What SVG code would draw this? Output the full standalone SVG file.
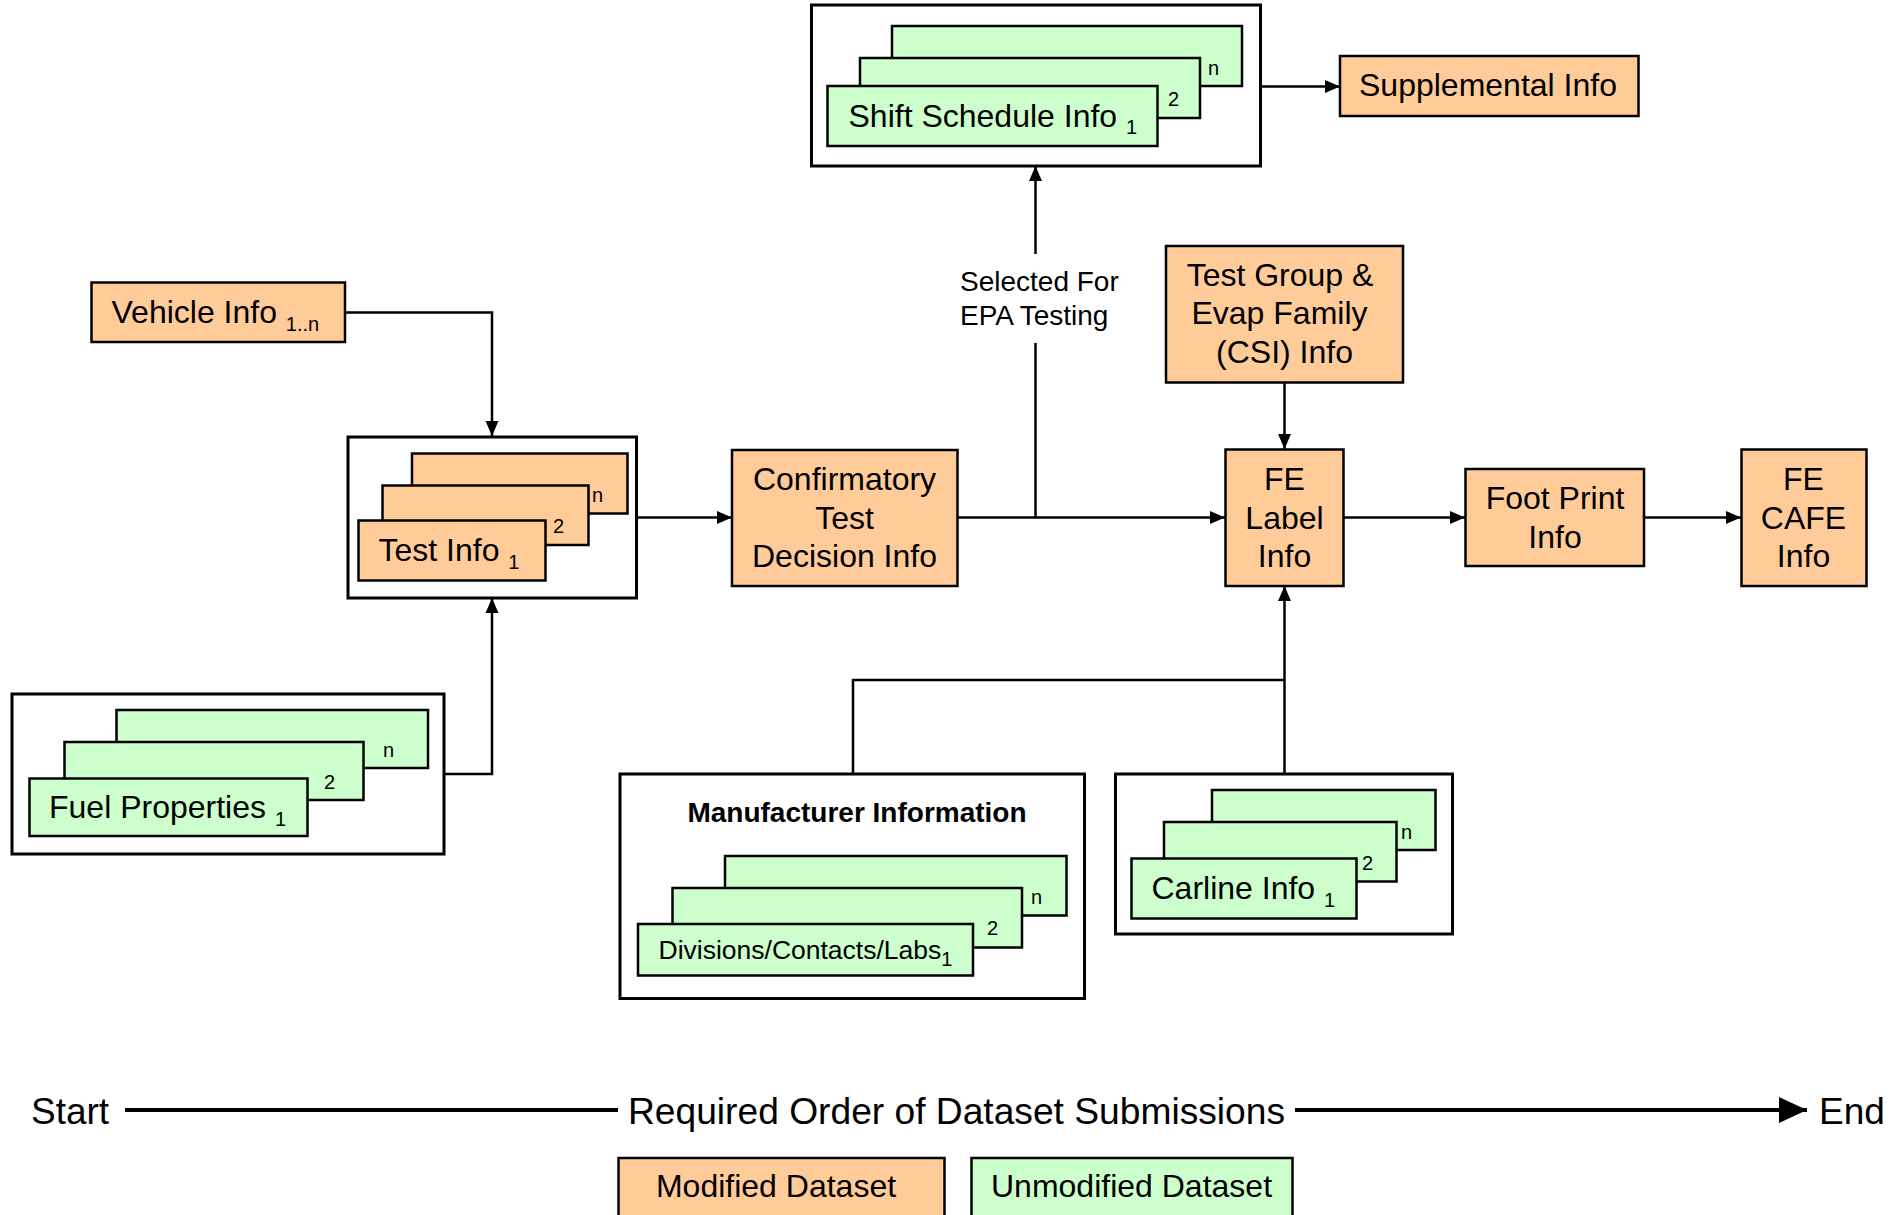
<svg xmlns="http://www.w3.org/2000/svg" width="1900" height="1215" viewBox="0 0 1900 1215">
<defs>
<marker id="arr" markerUnits="userSpaceOnUse" markerWidth="15" markerHeight="15" viewBox="0 0 15 15" refX="15" refY="7.5" orient="auto">
<path d="M0,1 L15,7.5 L0,14 z" fill="#000"/>
</marker>
<marker id="bigarr" markerUnits="userSpaceOnUse" markerWidth="28" markerHeight="26" viewBox="0 0 28 26" refX="28" refY="13" orient="auto">
<path d="M0,0 L28,13 L0,26 z" fill="#000"/>
</marker>
</defs>
<style>
text{font-family:"Liberation Sans",Arial,Helvetica,sans-serif;fill:#000}
.t{font-size:32px}
.m{font-size:32px;text-anchor:middle}
.s{font-size:20px}
.lbl{font-size:28px}
.big{font-size:37px}
.org{fill:#FFCC99;stroke:#000;stroke-width:2.5}
.grn{fill:#CCFFCC;stroke:#000;stroke-width:2.5}
.box{fill:#fff;stroke:#000;stroke-width:3}
.c{fill:none;stroke:#000;stroke-width:2.5}
</style>
<rect width="1900" height="1215" fill="#fff"/>

<g id="connectors">
<path class="c" d="M345,312.5 H492 V436" marker-end="url(#arr)"/>
<path class="c" d="M444,774 H492 V598" marker-end="url(#arr)"/>
<path class="c" d="M637,517.5 H732" marker-end="url(#arr)"/>
<path class="c" d="M957,517.5 H1225" marker-end="url(#arr)"/>
<path class="c" d="M1035.5,517.5 V343"/>
<path class="c" d="M1035.5,254 V166" marker-end="url(#arr)"/>
<path class="c" d="M1261,86.5 H1340" marker-end="url(#arr)"/>
<path class="c" d="M1284.5,382 V449" marker-end="url(#arr)"/>
<path class="c" d="M1343,517.5 H1465" marker-end="url(#arr)"/>
<path class="c" d="M1644,517.5 H1741" marker-end="url(#arr)"/>
<path class="c" d="M853,774 V680 H1284.5"/>
<path class="c" d="M1284.5,774 V586" marker-end="url(#arr)"/>
</g>

<g id="selected-label">
<text class="lbl" x="960" y="291">Selected For</text>
<text class="lbl" x="960" y="325">EPA Testing</text>
</g>

<g id="shift-schedule">
<rect class="box" x="811.5" y="5" width="449" height="161"/>
<rect class="grn" x="892" y="26" width="350" height="60"/>
<rect class="grn" x="860" y="58" width="340" height="60"/>
<rect class="grn" x="827.5" y="86" width="330" height="60"/>
<text class="s" x="1208" y="75">n</text>
<text class="s" x="1168" y="106">2</text>
<text class="t" x="848.5" y="126.5">Shift Schedule Info <tspan class="s" dy="7">1</tspan></text>
</g>

<g id="supplemental">
<rect class="org" x="1340" y="56" width="298.5" height="60"/>
<text class="m" x="1488" y="95.5">Supplemental Info</text>
</g>

<g id="vehicle-info">
<rect class="org" x="91.5" y="282.5" width="253.5" height="59.5"/>
<text class="t" x="111.5" y="322.5">Vehicle Info <tspan class="s" dy="8">1..n</tspan></text>
</g>

<g id="test-info">
<rect class="box" x="348" y="437" width="288.5" height="161"/>
<rect class="org" x="412" y="453.5" width="215.5" height="60"/>
<rect class="org" x="382.5" y="485.5" width="206" height="59.5"/>
<rect class="org" x="358.5" y="520.5" width="187" height="60"/>
<text class="s" x="592" y="502">n</text>
<text class="s" x="553" y="533">2</text>
<text class="t" x="378.5" y="560.5">Test Info <tspan class="s" dy="8">1</tspan></text>
</g>

<g id="confirmatory">
<rect class="org" x="732" y="450" width="225.5" height="136"/>
<text class="m" x="844.5" y="490">Confirmatory</text>
<text class="m" x="844.5" y="528.5">Test</text>
<text class="m" x="844.5" y="567">Decision Info</text>
</g>

<g id="test-group">
<rect class="org" x="1166" y="246" width="237" height="136.5"/>
<text class="m" x="1280" y="286">Test Group &amp;</text>
<text class="m" x="1279.5" y="324">Evap Family</text>
<text class="m" x="1284.5" y="362.5">(CSI) Info</text>
</g>

<g id="fe-label">
<rect class="org" x="1225.5" y="449.5" width="118" height="136.5"/>
<text class="m" x="1284.5" y="490">FE</text>
<text class="m" x="1284.5" y="528.5">Label</text>
<text class="m" x="1284.5" y="567">Info</text>
</g>

<g id="foot-print">
<rect class="org" x="1465.5" y="469" width="178.5" height="97"/>
<text class="m" x="1555" y="509">Foot Print</text>
<text class="m" x="1555" y="547.5">Info</text>
</g>

<g id="fe-cafe">
<rect class="org" x="1741.5" y="449.5" width="125" height="136.5"/>
<text class="m" x="1803.5" y="490">FE</text>
<text class="m" x="1803.5" y="528.5">CAFE</text>
<text class="m" x="1803.5" y="567">Info</text>
</g>

<g id="fuel-properties">
<rect class="box" x="12" y="694" width="432" height="160"/>
<rect class="grn" x="116.5" y="710" width="311.5" height="58"/>
<rect class="grn" x="64.5" y="742" width="299" height="58"/>
<rect class="grn" x="29.5" y="778.5" width="278" height="57.5"/>
<text class="s" x="383" y="757">n</text>
<text class="s" x="324" y="789">2</text>
<text class="t" x="49" y="817.5">Fuel Properties <tspan class="s" dy="8">1</tspan></text>
</g>

<g id="manufacturer">
<rect class="box" x="620" y="774" width="464.5" height="224.5"/>
<text x="857" y="822" style="font-size:28px;font-weight:bold;text-anchor:middle">Manufacturer Information</text>
<rect class="grn" x="725" y="856" width="341.5" height="59.5"/>
<rect class="grn" x="672.5" y="888" width="349.5" height="59.5"/>
<rect class="grn" x="638" y="924" width="335" height="51.5"/>
<text class="s" x="1031" y="904">n</text>
<text class="s" x="987" y="935">2</text>
<text x="658.5" y="959" style="font-size:26.5px">Divisions/Contacts/Labs<tspan class="s" dy="7">1</tspan></text>
</g>

<g id="carline">
<rect class="box" x="1115.5" y="774" width="337" height="160"/>
<rect class="grn" x="1212" y="790" width="223.5" height="60"/>
<rect class="grn" x="1164" y="822" width="232.5" height="59.5"/>
<rect class="grn" x="1131.5" y="858.5" width="225" height="60"/>
<text class="s" x="1401" y="839">n</text>
<text class="s" x="1362" y="870">2</text>
<text class="t" x="1151.5" y="898.5">Carline Info <tspan class="s" dy="8">1</tspan></text>
</g>

<g id="timeline">
<line x1="125" y1="1110" x2="618" y2="1110" stroke="#000" stroke-width="4"/>
<line x1="1295" y1="1110" x2="1807" y2="1110" stroke="#000" stroke-width="4" marker-end="url(#bigarr)"/>
<text class="big" x="31" y="1123.5">Start</text>
<text class="big" x="628" y="1123.5" textLength="657" lengthAdjust="spacingAndGlyphs">Required Order of Dataset Submissions</text>
<text class="big" x="1819" y="1123.5">End</text>
</g>

<g id="legend-modified">
<rect class="org" x="618.5" y="1158" width="326" height="70"/>
<text class="m" x="776" y="1197">Modified Dataset</text>
</g>
<g id="legend-unmodified">
<rect class="grn" x="971.5" y="1158" width="321" height="70"/>
<text class="m" x="1131.5" y="1197">Unmodified Dataset</text>
</g>
</svg>
